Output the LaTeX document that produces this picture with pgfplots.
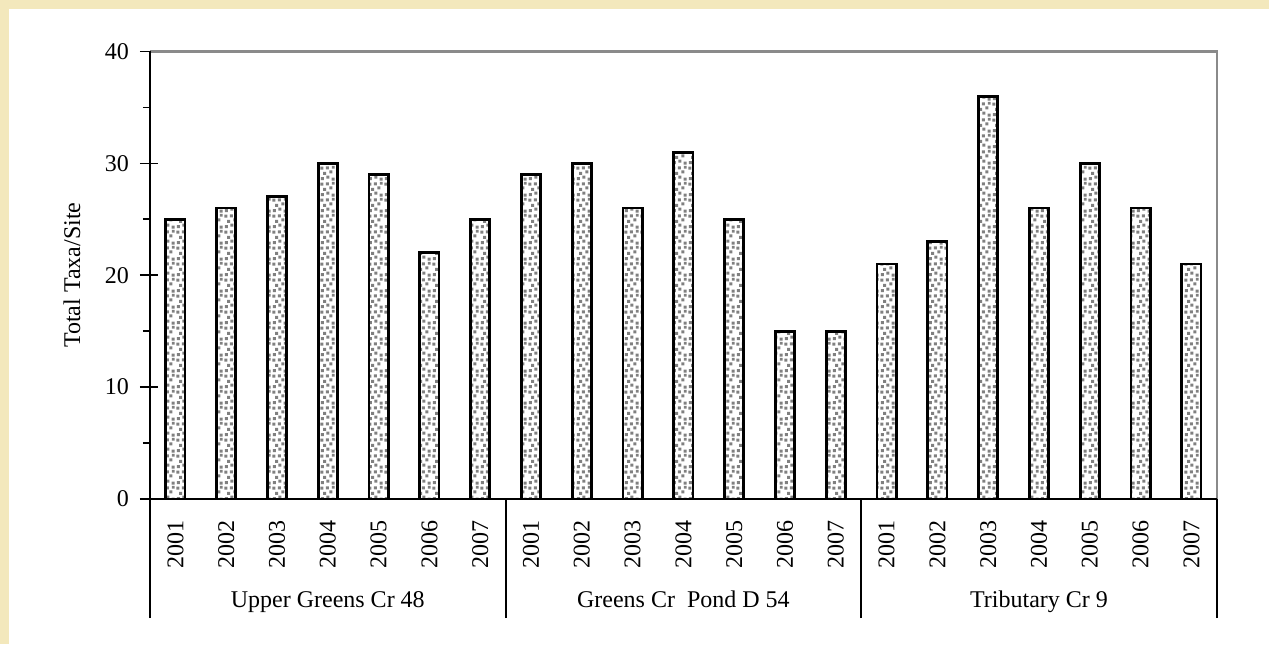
\documentclass[border=0pt]{standalone}
\usepackage{fontspec}
\setmainfont{Liberation Serif}
\usepackage{pgfplots}
\pgfplotsset{compat=1.18}
\usetikzlibrary{backgrounds,patterns}
\definecolor{cream}{HTML}{F3E8BC}
\definecolor{frame}{HTML}{8A8A8A}
\pgfdeclarepatternformonly{stipple}{\pgfpointorigin}{\pgfpoint{8pt}{8pt}}{\pgfpoint{8pt}{8pt}}{%
 \pgfpathrectangle{\pgfpoint{0.4pt}{0.5pt}}{\pgfpoint{1.6pt}{1.6pt}}%
 \pgfpathrectangle{\pgfpoint{3.4pt}{1.3pt}}{\pgfpoint{1.6pt}{1.6pt}}%
 \pgfpathrectangle{\pgfpoint{6.2pt}{0.2pt}}{\pgfpoint{1.6pt}{1.6pt}}%
 \pgfpathrectangle{\pgfpoint{1.7pt}{3.3pt}}{\pgfpoint{1.6pt}{1.6pt}}%
 \pgfpathrectangle{\pgfpoint{5.0pt}{4.0pt}}{\pgfpoint{1.6pt}{1.6pt}}%
 \pgfpathrectangle{\pgfpoint{0.2pt}{6.0pt}}{\pgfpoint{1.6pt}{1.6pt}}%
 \pgfpathrectangle{\pgfpoint{3.1pt}{6.2pt}}{\pgfpoint{1.6pt}{1.6pt}}%
 \pgfpathrectangle{\pgfpoint{6.3pt}{6.6pt}}{\pgfpoint{1.4pt}{1.4pt}}%
 \pgfusepath{fill}%
}
\pgfplotstableread{
x y
0 25
1 26
2 27
3 30
4 29
5 22
6 25
7 29
8 30
9 26
10 31
11 25
12 15
13 15
14 21
15 23
16 36
17 26
18 30
19 26
20 21
}\datatable
\begin{document}
\begin{tikzpicture}
\begin{axis}[
  name=ax,
  at={(0,0)}, anchor=south west,
  scale only axis,
  width=533.4pt, height=223.8pt,
  xmin=-0.5, xmax=20.5,
  ymin=0, ymax=40,
  axis line style={draw=none},
  xtick pos=lower, ytick pos=left,
  ytick={0,10,20,30,40},
  minor ytick={5,15,25,35},
  tick align=outside,
  major tick length=9pt,
  minor tick length=3.5pt,
  ytick style={black, line width=0.8pt},
  major y tick style={xshift=4pt},
  yticklabel style={font=\fontsize{12}{14}\selectfont, xshift=2pt},
  /pgf/number format/assume math mode=true,
  xtick=data,
  xticklabels={2001,2002,2003,2004,2005,2006,2007,2001,2002,2003,2004,2005,2006,2007,2001,2002,2003,2004,2005,2006,2007},
  major x tick style={draw=none},
  xticklabel style={rotate=90, anchor=east, font=\fontsize{12}{14}\selectfont, xshift=2pt},
  extra x ticks={-0.5,6.5,13.5,20.5},
  extra x tick labels={},
  extra x tick style={major tick length=59.5pt, tick align=outside, major x tick style={draw=black, line width=1pt}},
  clip=false,
]
\addplot[ybar, bar width=0.38, draw=black, line width=1.4pt, pattern=stipple, pattern color=black!50] table[x=x,y=y] {\datatable};
\draw[frame, line width=1.1pt] (rel axis cs:0,1) -- (rel axis cs:1,1) -- (rel axis cs:1,0);
\draw[black, line width=1pt] (rel axis cs:0,0) -- (rel axis cs:0,1);
\draw[black, line width=1.3pt] (rel axis cs:0,0) -- (rel axis cs:1,0);
\node[font=\fontsize{12}{14}\selectfont, anchor=base] at ([yshift=-54pt]axis cs:3,0) {Upper Greens Cr 48};
\node[font=\fontsize{12}{14}\selectfont, anchor=base] at ([yshift=-54pt]axis cs:10,0) {Greens Cr\ \ Pond D 54};
\node[font=\fontsize{12}{14}\selectfont, anchor=base] at ([yshift=-54pt]axis cs:17,0) {Tributary Cr 9};
\node[font=\fontsize{12}{14}\selectfont, rotate=90, anchor=center] at ([xshift=-39pt]rel axis cs:0,0.5) {Total Taxa/Site};
\end{axis}
\begin{scope}[on background layer]
\fill[cream] (-75pt,-72.5pt) rectangle (559.5pt,249.5pt);
\fill[white] (-70.5pt,-72.5pt) rectangle (559.5pt,245pt);
\end{scope}
\end{tikzpicture}
\end{document}
